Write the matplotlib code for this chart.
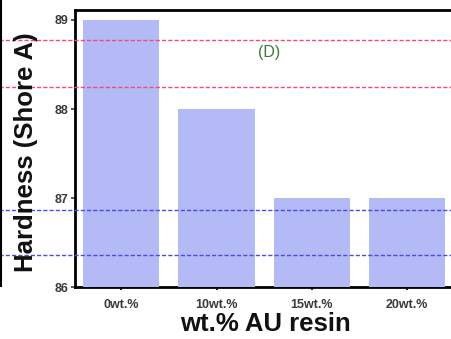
import numpy as np
import matplotlib.pyplot as plt
from matplotlib.lines import Line2D

categories = ['0wt.%', '10wt.%', '15wt.%', '20wt.%']
hardness = [89, 88, 87, 87]
red_lines = [88.78, 88.25]
blue_lines = [86.87, 86.36]

plt.rcParams['font.family'] = ['Liberation Sans', 'DejaVu Sans']

fig = plt.figure(figsize=(4.52, 3.39), dpi=100)
ax = fig.add_axes([0.166, 0.153, 0.84, 0.817])

x = np.arange(len(categories))
ax.bar(x, np.array(hardness) - 86, bottom=86, width=0.8, color='#b4baf6', zorder=3)
ax.set_xlim(-0.485, 3.5)
ax.set_ylim(86, 89.11)
ax.set_yticks([86, 87, 88, 89])
ax.set_xticks(x)
ax.set_xticklabels(categories, fontsize=9, fontweight='bold', color='#3a3a3a')
ax.tick_params(axis='y', labelsize=9, length=3, width=1.2, colors='#3a3a3a', pad=2)
ax.tick_params(axis='x', length=2.5, width=1.2, pad=6)
for lab in ax.get_yticklabels():
    lab.set_fontweight('bold')
for s in ['left', 'top', 'bottom']:
    ax.spines[s].set_linewidth(2)
ax.spines['right'].set_visible(False)

fig.text(26 / 452, 0.552, 'Hardness (Shore A)', fontsize=18.5, fontweight='bold',
         rotation=90, ha='center', va='center', color='#111111')
fig.text(265 / 452, 1 - 324 / 339, 'wt.% AU resin', fontsize=18.5, fontweight='bold',
         ha='center', va='center', color='#111111')

for v in red_lines:
    ax.axhline(v, xmin=-1, xmax=2, color='#e8506e', lw=1, ls=(0, (3, 1.5)), zorder=4, clip_on=False)
for v in blue_lines:
    ax.axhline(v, xmin=-1, xmax=2, color='#4a4ae6', lw=1, ls=(0, (3, 1.5)), zorder=4, clip_on=False)

ax.text(1.55, 88.63, '(D)', color='#3f7a35', fontsize=11.5, ha='center', va='center')

fig.add_artist(Line2D([0.003, 0.003], [0.155, 1.0], color='black', lw=1.5))

plt.savefig('out.png', dpi=100)
